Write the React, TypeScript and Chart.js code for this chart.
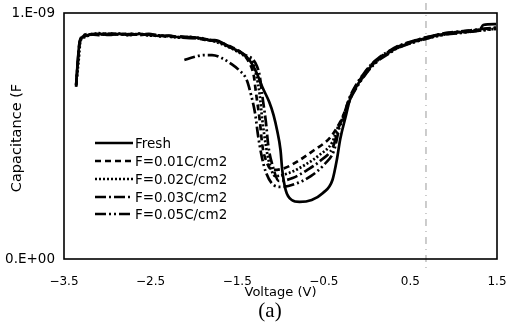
import { useEffect, useRef } from "react";
import { Chart, registerables } from "chart.js";
Chart.register(...registerables);

// Capacitance values are in units of 1e-9 F
const seriesNames = ["Fresh", "F=0.01C/cm2", "F=0.02C/cm2", "F=0.03C/cm2", "F=0.05C/cm2"];

const freshV = [-3.36,-3.34,-3.32,-3.28,-3.21,-3.10,-2.98,-2.86,-2.75,-2.63,-2.52,-2.40,-2.29,-2.17,-2.05,-1.94,-1.82,-1.76,-1.59,-1.45,-1.36,-1.28,-1.21,-1.13,-1.08,-1.04,-1.00,-0.98,-0.94,-0.87,-0.78,-0.64,-0.51,-0.40,-0.35,-0.31,-0.25,-0.20,-0.12,-0.05,0.05,0.15,0.26,0.34,0.49,0.68,0.90,1.11,1.30,1.34,1.49];
const freshC = [0.707,0.809,0.882,0.902,0.911,0.915,0.911,0.915,0.911,0.915,0.911,0.907,0.907,0.902,0.902,0.898,0.890,0.890,0.862,0.837,0.809,0.760,0.699,0.638,0.585,0.524,0.443,0.362,0.280,0.240,0.232,0.240,0.268,0.321,0.402,0.488,0.575,0.646,0.703,0.740,0.785,0.817,0.841,0.858,0.878,0.898,0.915,0.923,0.931,0.951,0.955];

const f001V = [-3.36,-3.34,-3.32,-3.28,-3.20,-3.10,-2.98,-2.86,-2.75,-2.63,-2.52,-2.40,-2.29,-2.17,-2.05,-1.94,-1.82,-1.76,-1.59,-1.42,-1.36,-1.31,-1.28,-1.24,-1.21,-1.16,-1.09,-0.95,-0.78,-0.61,-0.43,-0.35,-0.28,-0.20,-0.12,-0.05,0.05,0.15,0.26,0.34,0.49,0.68,0.90,1.11,1.30,1.49];
const f001C = [0.70,0.80,0.875,0.905,0.915,0.912,0.918,0.913,0.917,0.910,0.913,0.910,0.903,0.905,0.900,0.895,0.888,0.886,0.866,0.829,0.797,0.748,0.667,0.565,0.463,0.394,0.362,0.370,0.402,0.443,0.492,0.533,0.580,0.655,0.708,0.745,0.790,0.820,0.845,0.861,0.880,0.900,0.917,0.925,0.933,0.940];

const f002V = [-3.36,-3.33,-3.31,-3.27,-3.20,-3.10,-2.98,-2.86,-2.75,-2.63,-2.52,-2.40,-2.29,-2.17,-2.05,-1.94,-1.82,-1.76,-1.59,-1.42,-1.32,-1.28,-1.24,-1.21,-1.17,-1.13,-1.06,-0.90,-0.72,-0.55,-0.40,-0.34,-0.28,-0.20,-0.12,-0.05,0.05,0.15,0.26,0.34,0.49,0.68,0.90,1.11,1.30,1.49];
const f002C = [0.71,0.81,0.885,0.900,0.910,0.918,0.912,0.916,0.910,0.916,0.908,0.909,0.905,0.900,0.903,0.897,0.891,0.884,0.860,0.826,0.797,0.748,0.667,0.565,0.463,0.390,0.337,0.350,0.382,0.423,0.476,0.533,0.572,0.650,0.700,0.738,0.782,0.815,0.839,0.856,0.876,0.896,0.913,0.921,0.929,0.936];

const f003V = [-3.36,-3.34,-3.32,-3.28,-3.21,-3.10,-2.98,-2.86,-2.75,-2.63,-2.52,-2.40,-2.29,-2.17,-2.05,-1.94,-1.82,-1.76,-1.59,-1.42,-1.29,-1.24,-1.21,-1.17,-1.14,-1.09,-1.02,-0.86,-0.69,-0.53,-0.39,-0.33,-0.27,-0.20,-0.12,-0.05,0.05,0.15,0.26,0.34,0.49,0.68,0.90,1.11,1.30,1.49];
const f003C = [0.705,0.805,0.880,0.908,0.913,0.910,0.916,0.912,0.914,0.912,0.915,0.905,0.908,0.901,0.898,0.899,0.889,0.887,0.864,0.832,0.797,0.744,0.663,0.561,0.459,0.378,0.317,0.329,0.362,0.402,0.459,0.533,0.585,0.658,0.712,0.748,0.792,0.822,0.847,0.863,0.882,0.901,0.918,0.926,0.934,0.941];

const f005V = [-2.11,-2.00,-1.88,-1.79,-1.68,-1.57,-1.48,-1.39,-1.34,-1.29,-1.26,-1.22,-1.17,-1.08,-0.99,-0.83,-0.65,-0.49,-0.38,-0.32,-0.27,-0.20,-0.12,-0.05,0.05,0.15,0.26,0.34,0.49,0.68,0.90,1.11,1.30,1.49];
const f005C = [0.809,0.821,0.829,0.829,0.817,0.793,0.768,0.728,0.667,0.585,0.504,0.423,0.354,0.301,0.293,0.305,0.337,0.386,0.443,0.533,0.570,0.645,0.698,0.735,0.780,0.812,0.837,0.855,0.875,0.895,0.912,0.920,0.928,0.935];

const seriesV = [freshV, f001V, f002V, f003V, f005V];
const seriesC = [freshC, f001C, f002C, f003C, f005C];

const xTickValues = [-3.5, -2.5, -1.5, -0.5, 0.5, 1.5];
const xTickLabels = ["\u22123.5", "\u22122.5", "\u22121.5", "\u22120.5", "0.5", "1.5"];
const yTickValues = [0, 1];
const yTickLabels = ["0.E+00", "1.E-09"];
const xTitle = "Voltage (V)";
const yTitle = "Capacitance (F";
const caption = "(a)";
const markerV = 0.68; // faint dash-dot vertical line in the original

const dashes: number[][] = [[], [6, 4], [2, 2], [11, 3, 2, 3], [11, 3, 2, 3, 2, 3]];
const FONT = "'DejaVu Sans', sans-serif";

export default function App() {
  const ref = useRef<HTMLCanvasElement>(null);
  useEffect(() => {
    const canvas = ref.current!;
    const datasets = seriesNames.map((name, i) => ({
      label: name,
      data: seriesV[i].map((v, j) => ({ x: v, y: seriesC[i][j] })),
      borderColor: "#000",
      backgroundColor: "#000",
      borderWidth: 2.7,
      borderDash: dashes[i],
      pointRadius: 0,
      showLine: true,
      fill: false,
      cubicInterpolationMode: "monotone" as const,
    }));

    const decor = {
      id: "decor",
      beforeDatasetsDraw(chart: any) {
        const { ctx, chartArea: a, scales } = chart;
        const x = scales.x.getPixelForValue(markerV);
        ctx.save();
        ctx.strokeStyle = "#9a9a9a";
        ctx.lineWidth = 1;
        ctx.setLineDash([7, 5, 1, 5]);
        ctx.beginPath();
        ctx.moveTo(x, a.top - 10);
        ctx.lineTo(x, a.bottom + 10);
        ctx.stroke();
        ctx.restore();
      },
      afterDraw(chart: any) {
        const { ctx, chartArea: a } = chart;
        ctx.save();
        ctx.strokeStyle = "#000";
        ctx.lineWidth = 1.6;
        ctx.setLineDash([]);
        ctx.strokeRect(a.left, a.top, a.right - a.left, a.bottom - a.top);

        ctx.fillStyle = "#000";
        ctx.textBaseline = "middle";
        ctx.textAlign = "center";
        ctx.font = `13px ${FONT}`;
        ctx.fillText(xTitle, (a.left + a.right) / 2, 293);

        ctx.font = `21px 'Liberation Serif', serif`;
        ctx.fillText(caption, 270, 311);

        ctx.save();
        ctx.translate(17, (a.top + a.bottom) / 2 + 2);
        ctx.rotate(-Math.PI / 2);
        ctx.font = `14.5px ${FONT}`;
        ctx.fillText(yTitle, 0, 0);
        ctx.restore();

        // legend
        const ys = [143, 161, 179, 197, 214];
        ctx.font = `13.5px ${FONT}`;
        ctx.textAlign = "left";
        seriesNames.forEach((name, i) => {
          ctx.lineWidth = 2.6;
          ctx.setLineDash(dashes[i]);
          ctx.beginPath();
          ctx.moveTo(95, ys[i]);
          ctx.lineTo(133, ys[i]);
          ctx.stroke();
          ctx.setLineDash([]);
          ctx.fillText(name, 135, ys[i] + 1);
        });
        ctx.restore();
      },
    };

    const chart = new Chart(canvas, {
      type: "scatter",
      data: { datasets },
      options: {
        responsive: false,
        animation: false,
        devicePixelRatio: 1,
        layout: { padding: { top: 13, right: 9, left: 0, bottom: 0 } },
        plugins: { legend: { display: false }, tooltip: { enabled: false } },
        scales: {
          x: {
            type: "linear",
            min: -3.5,
            max: 1.5,
            afterBuildTicks: (s: any) => {
              s.ticks = xTickValues.map((v) => ({ value: v }));
            },
            ticks: {
              callback: (v: any) => xTickLabels[xTickValues.indexOf(Number(v))] ?? "",
              font: { family: FONT, size: 12 },
              color: "#000",
              padding: 16,
              maxRotation: 0,
              autoSkip: false,
            },
            grid: { display: false, drawTicks: false },
            border: { display: false },
            afterFit: (s: any) => {
              s.height = 72;
              s.paddingLeft = 0;
              s.paddingRight = 0;
            },
          },
          y: {
            type: "linear",
            min: 0,
            max: 1,
            afterBuildTicks: (s: any) => {
              s.ticks = yTickValues.map((v) => ({ value: v }));
            },
            ticks: {
              callback: (v: any) => yTickLabels[yTickValues.indexOf(Number(v))] ?? "",
              font: { family: FONT, size: 13.5 },
              color: "#000",
              padding: 9,
            },
            grid: { display: false, drawTicks: false },
            border: { display: false },
            afterFit: (s: any) => {
              s.width = 64;
              s.paddingTop = 0;
              s.paddingBottom = 0;
            },
          },
        },
      },
      plugins: [decor],
    } as any);
    return () => chart.destroy();
  }, []);
  return (
    <div style={{ position: "absolute", left: 0, top: 0, width: 506, height: 331, background: "#fff" }}>
      <canvas ref={ref} width={506} height={331} style={{ display: "block" }} />
    </div>
  );
}
